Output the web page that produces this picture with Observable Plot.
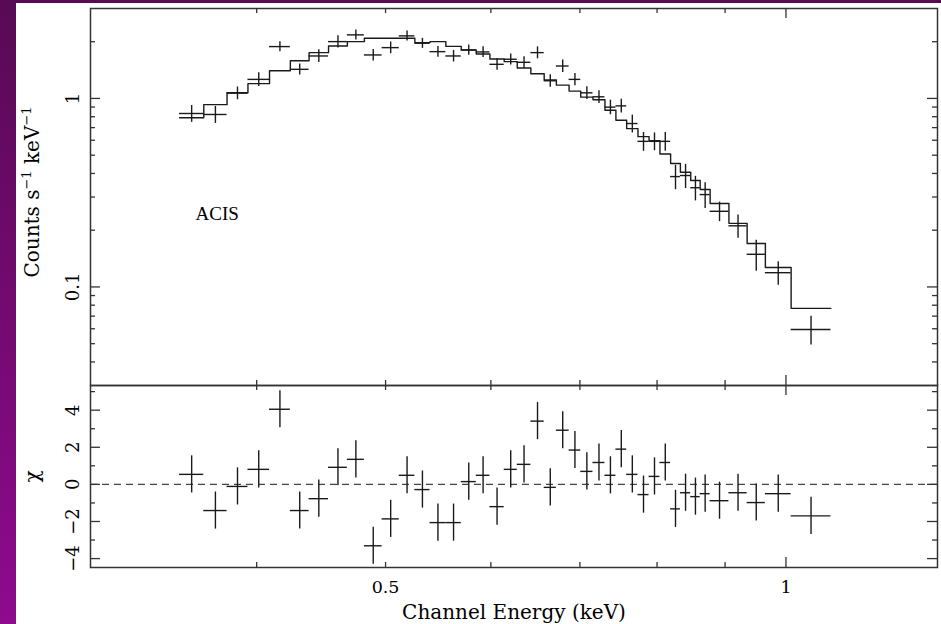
<!DOCTYPE html>
<html><head><meta charset="utf-8">
<script src="https://cdn.jsdelivr.net/npm/d3@7"></script>
<script src="https://cdn.jsdelivr.net/npm/@observablehq/plot@0.6"></script>
<style>
html,body{margin:0;padding:0;background:#fff;}
#wrap{position:relative;width:941px;height:624px;overflow:hidden;background:linear-gradient(180deg,#580a54 0%,#760a74 55%,#8e0a8e 100%);}
#paper{position:absolute;left:16px;top:3px;right:0;bottom:0;background:#fff;}
#top,#bottom{position:absolute;left:0;}
#top{top:0;} #bottom{top:380px;}
</style></head><body>
<div id="wrap"><div id="paper"></div><div id="top"></div><div id="bottom"></div></div>
<script>
// ---- data ----
const binEdges = [0.350,0.365,0.380,0.394,0.409,0.424,0.438,0.453,0.468,0.482,0.497,0.512,0.526,0.540,0.555,0.570,0.585,0.599,0.614,0.628,0.643,0.658,0.672,0.687,0.701,0.716,0.731,0.745,0.759,0.774,0.789,0.804,0.819,0.833,0.848,0.862,0.877,0.906,0.935,0.965,1.009,1.081];
const counts = [0.832,0.822,1.067,1.262,1.884,1.427,1.680,2.002,2.174,1.701,1.860,2.147,1.963,1.771,1.680,1.808,1.765,1.517,1.614,1.555,1.750,1.241,1.486,1.262,1.071,1.020,0.899,0.913,0.736,0.592,0.592,0.592,0.385,0.390,0.336,0.309,0.252,0.211,0.149,0.119,0.0595];
const countErr = [0.085,0.085,0.083,0.105,0.116,0.096,0.13,0.15,0.133,0.119,0.133,0.131,0.12,0.115,0.118,0.111,0.115,0.108,0.109,0.11,0.128,0.094,0.112,0.096,0.083,0.079,0.08,0.076,0.08,0.068,0.064,0.068,0.057,0.057,0.05,0.048,0.030,0.030,0.028,0.017,0.0103];
const model = [0.790,0.927,1.071,1.198,1.403,1.586,1.750,1.899,2.002,2.087,2.087,2.087,1.978,2.002,1.888,1.808,1.722,1.620,1.567,1.450,1.352,1.252,1.177,1.094,1.016,0.985,0.866,0.766,0.692,0.627,0.597,0.507,0.452,0.406,0.367,0.329,0.277,0.2175,0.170,0.1267,0.077];
const chi = [0.54,-1.41,-0.11,0.81,4.05,-1.41,-0.77,0.92,1.35,-3.31,-1.86,0.49,-0.28,-2.06,-2.06,0.15,0.49,-1.2,0.81,1.08,3.41,-0.16,2.92,1.85,0.70,1.18,0.49,1.90,0.54,-0.55,0.43,1.18,-1.32,-0.45,-0.66,-0.50,-0.88,-0.45,-0.98,-0.50,-1.70];
const chiErr = [1,1,1,1,1,1,1,1,1,1,1,1,1,1,1,1,1,1,1,1,1,1,1,1,1,1,1,1,1,1,1,1,1,1,1,1,1,1,1,1,1];

const xMinorTicks = [0.4,0.5,0.6,0.7,0.8,0.9];
const xMajorTicks = [1];
const xTickValues = [0.5,1];
const xTickText = ["0.5","1"];
const yTopMinorTicks = [0.04,0.05,0.06,0.07,0.08,0.09,0.2,0.3,0.4,0.5,0.6,0.7,0.8,0.9,2];
const yTopMajorTicks = [0.1,1];
const yTopTickText = ["0.1","1"];
const yBotMinorTicks = [-3,-1,1,3,5];
const yBotMajorTicks = [-4,-2,0,2,4];
const yBotTickText = ["\u22124","\u22122","0","2","4"];
const xLabel = "Channel Energy (keV)";
const yTopLabelParts = ["Counts s","\u22121"," keV","\u22121"];
const yBotLabel = "\u03C7";
const panelLabel = "ACIS";

// ---- derived rows ----
const bins = counts.map((c,i)=>({lo:binEdges[i],hi:binEdges[i+1],mid:Math.sqrt(binEdges[i]*binEdges[i+1]),c,e:countErr[i],m:model[i],chi:chi[i],ce:chiErr[i]}));
const modelSteps = bins.map(b=>({x:b.lo,y:b.m})).concat([{x:bins[bins.length-1].hi,y:bins[bins.length-1].m}]);

const W=941, L=90, R=4, innerW=W-L-R;
const ink="#1a1a1a", sw=1.4, frameInk="#333";
const font="DejaVu Serif";
const style={background:"transparent",overflow:"visible",fontFamily:font};

function ticks(innerH, xMin, xMaj, yMin, yMaj){
  const o={stroke:frameInk,strokeWidth:1.3};
  return [
    Plot.tickX(xMin,{x:d=>d,insetBottom:innerH-5,...o}),
    Plot.tickX(xMin,{x:d=>d,insetTop:innerH-5,...o}),
    Plot.tickX(xMaj,{x:d=>d,insetBottom:innerH-10,...o}),
    Plot.tickX(xMaj,{x:d=>d,insetTop:innerH-10,...o}),
    Plot.tickY(yMin,{y:d=>d,insetRight:innerW-5,...o}),
    Plot.tickY(yMin,{y:d=>d,insetLeft:innerW-5,...o}),
    Plot.tickY(yMaj,{y:d=>d,insetRight:innerW-10,...o}),
    Plot.tickY(yMaj,{y:d=>d,insetLeft:innerW-10,...o})
  ];
}

// ---- top panel ----
const topH=386, topMT=8, topMB=1, topInner=topH-topMT-topMB;
const topPlot = Plot.plot({
  width:W, height:topH, marginLeft:L, marginRight:R, marginTop:topMT, marginBottom:topMB,
  style,
  x:{type:"log",domain:[0.3,1.3],axis:null},
  y:{type:"log",domain:[0.03,3],axis:null},
  marks:[
    Plot.line(modelSteps,{x:"x",y:"y",curve:"step-after",stroke:ink,strokeWidth:sw}),
    Plot.ruleY(bins,{y:"c",x1:"lo",x2:"hi",stroke:ink,strokeWidth:sw}),
    Plot.ruleX(bins,{x:"mid",y1:d=>d.c-d.e,y2:d=>d.c+d.e,stroke:ink,strokeWidth:sw}),
    ...ticks(topInner,xMinorTicks,xMajorTicks,yTopMinorTicks,yTopMajorTicks),
    Plot.text(yTopMajorTicks,{y:d=>d,text:yTopTickText,frameAnchor:"left",dx:-12,rotate:-90,textAnchor:"middle",lineAnchor:"bottom",fontSize:18,fill:"#000"}),
    Plot.text([yTopLabelParts.join("")],{text:d=>d,frameAnchor:"left",dx:-52,dy:-5,rotate:-90,textAnchor:"middle",lineAnchor:"bottom",fontSize:20,fill:"#000",className:"ylab-top"}),
    Plot.text([panelLabel],{text:d=>d,frameAnchor:"top-left",dx:105,dy:211.5,textAnchor:"start",lineAnchor:"bottom",fontSize:19,fontFamily:"Liberation Serif",fill:"#000"}),
    Plot.frame({stroke:frameInk,strokeWidth:1.5})
  ]
});
document.getElementById("top").appendChild(topPlot);

// turn the axis label into text with real superscripts
const labEl = topPlot.querySelector(".ylab-top text");
if (labEl) {
  const ns = "http://www.w3.org/2000/svg";
  labEl.textContent = "";
  yTopLabelParts.forEach((part,i)=>{
    const t = document.createElementNS(ns,"tspan");
    const sup = i % 2 === 1;
    t.setAttribute("font-size", sup ? "13" : "20");
    t.setAttribute("dy", sup ? "-8" : (i === 0 ? "0" : "8"));
    t.textContent = part;
    labEl.appendChild(t);
  });
}

// ---- residual panel ----
const botH=244, botMT=5, botMB=57, botInner=botH-botMT-botMB;
const botPlot = Plot.plot({
  width:W, height:botH, marginLeft:L, marginRight:R, marginTop:botMT, marginBottom:botMB,
  style,
  x:{type:"log",domain:[0.3,1.3],axis:null},
  y:{domain:[-4.48,5.33],axis:null},
  marks:[
    Plot.ruleY([0],{stroke:"#444",strokeWidth:1.3,strokeDasharray:"7,5"}),
    Plot.ruleY(bins,{y:"chi",x1:"lo",x2:"hi",stroke:ink,strokeWidth:sw}),
    Plot.ruleX(bins,{x:"mid",y1:d=>d.chi-d.ce,y2:d=>d.chi+d.ce,stroke:ink,strokeWidth:sw}),
    ...ticks(botInner,xMinorTicks,xMajorTicks,yBotMinorTicks,yBotMajorTicks),
    Plot.text(yBotMajorTicks,{y:d=>d,text:yBotTickText,frameAnchor:"left",dx:-12,rotate:-90,textAnchor:"middle",lineAnchor:"bottom",fontSize:18,fill:"#000"}),
    Plot.text([yBotLabel],{text:d=>d,frameAnchor:"left",dx:-52,rotate:-90,textAnchor:"middle",lineAnchor:"bottom",fontSize:20,fill:"#000"}),
    Plot.text(xTickValues,{x:d=>d,text:xTickText,frameAnchor:"bottom",dy:25.7,textAnchor:"middle",lineAnchor:"bottom",fontSize:17.5,fill:"#000"}),
    Plot.text([xLabel],{text:d=>d,frameAnchor:"bottom",dy:51.3,textAnchor:"middle",lineAnchor:"bottom",fontSize:20,fill:"#000"}),
    Plot.frame({stroke:frameInk,strokeWidth:1.5})
  ]
});
document.getElementById("bottom").appendChild(botPlot);
</script></body></html>
